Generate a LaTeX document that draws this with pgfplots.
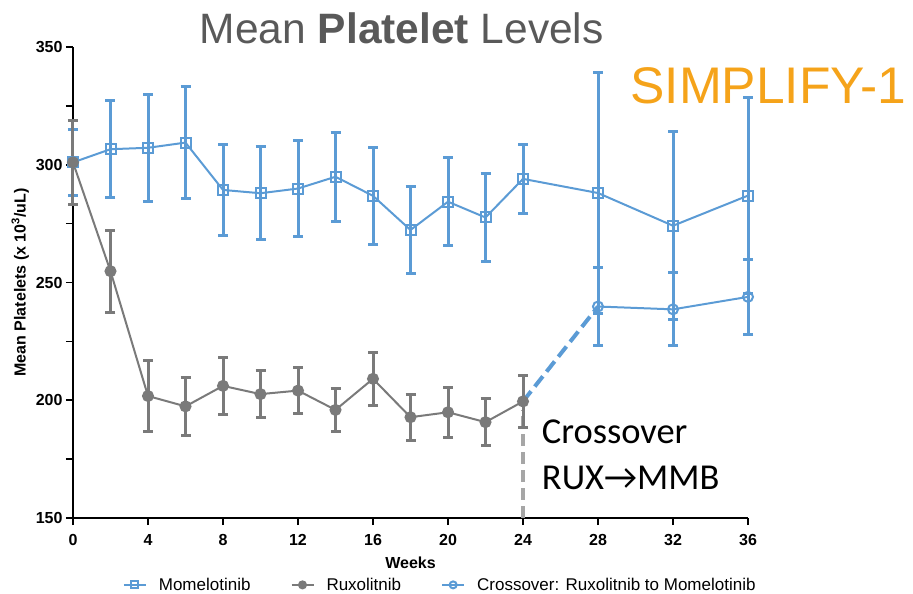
\documentclass[border=0pt]{standalone}
\usepackage{fontspec}
\setmainfont{Liberation Sans}
\newfontfamily\carlito{Carlito}
\usepackage{pgfplots}
\pgfplotsset{compat=1.18}
\definecolor{mblue}{HTML}{5B9BD5}
\definecolor{rgray}{HTML}{7A7A7A}
\definecolor{lgray}{HTML}{A6A6A6}
\definecolor{sorange}{HTML}{F5A31A}
\definecolor{tgray}{HTML}{595959}
\begin{document}
\begin{tikzpicture}
\begin{axis}[
  width=675pt, height=471pt, scale only axis,
  xmin=0, xmax=36, ymin=150, ymax=350,
  clip=false,
  axis x line*=bottom, axis y line*=left,
  axis line style={line width=2pt, black},
  every tick/.style={line width=1.6pt, black},
  tick align=outside,
  major tick length=7pt, minor tick length=7pt,
  xtick={0,4,...,36}, ytick={150,200,...,350},
  minor ytick={175,225,275,325},
  /pgf/number format/assume math mode=true,
  tick label style={font=\fontsize{16}{19}\selectfont\bfseries},
  xticklabel style={yshift=-6pt},
  xlabel={Weeks},
  ylabel={Mean Platelets (x 10\textsuperscript{3}/uL)},
  label style={font=\fontsize{16}{19}\selectfont\bfseries},
  xlabel style={yshift=-4pt},
  legend style={at={(0.544,-0.142)}, anchor=center, draw=none,
    font=\fontsize{17}{20}\selectfont, legend columns=3,
    /tikz/every odd column/.append style={column sep=10pt},
    /tikz/every even column/.append style={column sep=38pt}},
  legend cell align=left,
  legend image code/.code={%
    \draw[#1, mark size=3.5pt, mark repeat=2, mark phase=2]
      plot coordinates {(0pt,0pt) (11pt,0pt) (22pt,0pt)};},
]
% connectors
\addplot[lgray, line width=4pt, dash pattern=on 12pt off 6pt, forget plot]
  coordinates {(24,150) (24,196)};
\addplot[mblue, line width=4pt, dash pattern=on 13pt off 6pt, forget plot]
  coordinates {(24,199.5) (28,239.8)};
% Momelotinib
\addplot[mblue, line width=2pt, mark=square, mark size=5pt,
  mark options={solid, fill=white, line width=2pt},
  error bars/.cd, y dir=both, y explicit,
  error bar style={line width=3pt, mblue},
  error mark options={rotate=90, mark size=5pt, line width=3pt, mblue}]
coordinates {
(0,301) +- (0,14)
(2,306.6) +- (0,20.6)
(4,307.2) +- (0,22.6)
(6,309.4) +- (0,23.7)
(8,289.3) +- (0,19.5)
(10,287.9) +- (0,19.7)
(12,289.9) +- (0,20.3)
(14,294.9) +- (0,19)
(16,286.8) +- (0,20.5)
(18,272.3) +- (0,18.4)
(20,284.3) +- (0,18.8)
(22,277.6) +- (0,18.8)
(24,294) +- (0,14.8)
(28,288) +- (0,51)
(32,274.1) +- (0,40)
(36,286.9) +- (0,41.5)
};
\addlegendentry{Momelotinib}
% Ruxolitinib
\addplot[rgray, line width=2pt, mark=*, mark size=5pt,
  mark options={solid, fill=rgray, draw=rgray},
  error bars/.cd, y dir=both, y explicit,
  error bar style={line width=3pt, rgray},
  error mark options={rotate=90, mark size=5pt, line width=3pt, rgray}]
coordinates {
(0,301) +- (0,17.7)
(2,254.8) +- (0,17.4)
(4,201.8) +- (0,15)
(6,197.4) +- (0,12.4)
(8,206.1) +- (0,12.1)
(10,202.6) +- (0,9.9)
(12,204.1) +- (0,9.8)
(14,195.9) +- (0,9.2)
(16,209.1) +- (0,11.2)
(18,192.8) +- (0,9.8)
(20,194.9) +- (0,10.7)
(22,190.7) +- (0,10)
(24,199.5) +- (0,11)
};
\addlegendentry{Ruxolitnib}
% Crossover
\addplot[mblue, line width=2pt, mark=o, mark size=5pt,
  mark options={solid, line width=2pt},
  error bars/.cd, y dir=both, y explicit,
  error bar style={line width=3pt, mblue},
  error mark options={rotate=90, mark size=5pt, line width=3pt, mblue}]
coordinates {
(28,239.8) +- (0,16.5)
(32,238.6) +- (0,15.5)
(36,243.9) +- (0,16)
};
\addlegendentry{Crossover: Ruxolitnib to Momelotinib}
% texts
\node[font=\fontsize{42.5}{50}\selectfont, text=tgray] at (rel axis cs:0.487,1.040)
  {Mean \textbf{Platelet} Levels};
\node[font=\fontsize{51.5}{60}\selectfont, text=sorange] at (rel axis cs:1.030,0.918)
  {SIMPLIFY-1};
\node[font=\fontsize{36.5}{42}\selectfont\carlito, anchor=west, inner sep=0pt] at (axis cs:25.0,186.5) {Crossover};
\node[font=\fontsize{36.5}{42}\selectfont\carlito, anchor=west, inner sep=0pt] at (axis cs:25.0,167) {RUX→MMB};
\end{axis}
\pgfresetboundingbox
\path[use as bounding box] (-73pt,-76pt) rectangle (840pt,518pt);
\end{tikzpicture}
\end{document}
